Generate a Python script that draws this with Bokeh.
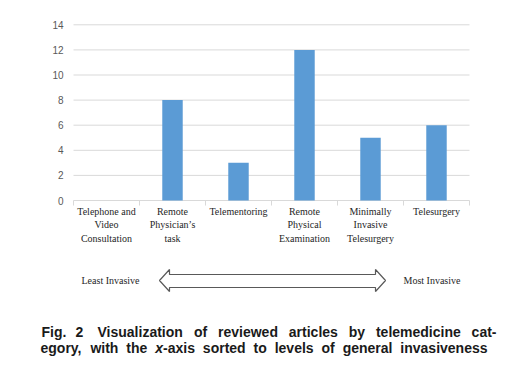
from bokeh.plotting import figure
from bokeh.models import Range1d, FixedTicker
from bokeh.core.properties import value
from bokeh.embed import file_html
from bokeh.resources import INLINE

# ---------------- data ----------------
categories = [
    "Telephone and\nVideo\nConsultation",
    "Remote\nPhysician\u2019s\ntask",
    "Telementoring",
    "Remote\nPhysical\nExamination",
    "Minimally\nInvasive\nTelesurgery",
    "Telesurgery",
]
articles = [0, 8, 3, 12, 5, 6]
y_ticks = [0, 2, 4, 6, 8, 10, 12, 14]

scale_left = "Least Invasive"
scale_right = "Most Invasive"
caption_1 = ["Fig.", "2", "Visualization", "of", "reviewed", "articles", "by", "telemedicine", "cat-"]
caption_2 = [["egory,"], ["with"], ["the"], ["x", "-axis"], ["sorted"], ["to"], ["levels"],
             ["of"], ["general"], ["invasiveness"]]

GRID = "#d9d9d9"
BAR = "#5B9BD5"

# page geometry: canvas placed at page ORIGIN
ORIGIN = 0
W_CANVAS, H_CANVAS = 503, 366
n = len(categories)
pos = list(range(1, n + 1))                 # category centres
bounds = [i + 0.5 for i in range(n + 1)]    # category boundaries
CAT_PX = 66.0
PX_PER_UNIT = 12.55
x_start = 0.5 - (73 - ORIGIN) / CAT_PX
x_end = x_start + W_CANVAS / CAT_PX
y_end = (200 - ORIGIN) / PX_PER_UNIT
y_start = y_end - H_CANVAS / PX_PER_UNIT

p = figure(
    x_range=Range1d(x_start, x_end), y_range=Range1d(y_start, y_end),
    width=W_CANVAS, height=H_CANVAS,
    min_border_left=0, min_border_right=0, min_border_top=0, min_border_bottom=0,
    output_backend="svg", toolbar_location=None,
)
p.extra_x_ranges = {"px": Range1d(ORIGIN, ORIGIN + W_CANVAS)}
p.extra_y_ranges = {"px": Range1d(ORIGIN + H_CANVAS, ORIGIN)}
p.outline_line_color = None
p.grid.visible = False

# grid lines and boundary ticks limited to the chart area
p.segment(x0=bounds[0], y0=y_ticks, x1=bounds[-1], y1=y_ticks, line_color=GRID, line_width=1)
p.segment(x0=bounds, y0=0, x1=bounds, y1=-0.4, line_color=GRID, line_width=1)

p.vbar(x=pos, top=articles, width=0.31, fill_color=BAR, line_color=None)

# axes placed inside the canvas
ya = p.yaxis[0]
ya.fixed_location = bounds[0]
ya.ticker = FixedTicker(ticks=y_ticks)
ya.axis_line_color = None
ya.major_tick_line_color = None
ya.minor_tick_line_color = None
ya.major_tick_out = 0
ya.major_tick_in = 0
ya.major_label_standoff = 10
ya.major_label_text_font = "Liberation Sans"
ya.major_label_text_font_size = "10px"
ya.major_label_text_color = "#595959"

xa = p.xaxis[0]
xa.fixed_location = 0
xa.ticker = FixedTicker(ticks=pos)
xa.major_label_overrides = {k: v for k, v in zip(pos, categories)}
xa.axis_line_color = None
xa.major_tick_line_color = None
xa.minor_tick_line_color = None
xa.major_tick_out = 0
xa.major_tick_in = 0
xa.major_label_standoff = 5
xa.major_label_text_font = "Liberation Serif"
xa.major_label_text_font_size = "10px"
xa.major_label_text_color = "#262626"
xa.major_label_text_line_height = 1.25

# ---------------- arrow + caption (page pixel coordinates) ----------------
ax = [159, 169, 169, 375, 375, 385, 375, 375, 169, 169]
ay = [280, 269, 274, 274, 269, 280, 291, 287, 287, 291]
p.patch(x=ax, y=ay, fill_color="white", line_color="#595959", line_width=1.2,
        x_range_name="px", y_range_name="px")

p.text(x=[81, 403], y=[280, 280], text=[scale_left, scale_right], text_font=value("Liberation Serif"),
       text_font_size="10px", text_baseline="middle", text_align="left", text_color="#262626",
       x_range_name="px", y_range_name="px")

# Helvetica-Bold advance widths (per 1000 em)
W = {'a': 556, 'b': 611, 'c': 556, 'd': 611, 'e': 556, 'f': 333, 'g': 611, 'h': 611, 'i': 278,
     'j': 278, 'k': 556, 'l': 278, 'm': 889, 'n': 611, 'o': 611, 'p': 611, 'q': 611, 'r': 389,
     's': 556, 't': 333, 'u': 611, 'v': 556, 'w': 778, 'x': 556, 'y': 556, 'z': 500, 'F': 611,
     'V': 667, '2': 556, '.': 278, ',': 278, '-': 333, ' ': 278}
FS = 14


def tw(s):
    return sum(W.get(c, 556) for c in s) * FS / 1000.0


bx, by, bt = [], [], []
ix, iy, it = [], [], []

y1 = 331
bx += [41, 75]; by += [y1, y1]; bt += caption_1[:2]
words = caption_1[2:]
start, end = 97, 496
gap = (end - start - sum(tw(w) for w in words)) / (len(words) - 1)
x = start
for w in words:
    bx.append(x); by.append(y1); bt.append(w)
    x += tw(w) + gap

y2 = 347.5
start, end = 40, 487
total = sum(tw(s) for g in caption_2 for s in g)
gap = (end - start - total) / (len(caption_2) - 1)
x = start
for g in caption_2:
    for s in g:
        if s == "x":
            ix.append(x); iy.append(y2); it.append(s)
        else:
            bx.append(x); by.append(y2); bt.append(s)
        x += tw(s)
    x += gap

p.text(x=bx, y=by, text=bt, text_font=value("Liberation Sans"), text_font_size=f"{FS}px",
       text_font_style="bold", text_baseline="alphabetic", text_align="left", text_color="#1a1a1a",
       x_range_name="px", y_range_name="px")
p.text(x=ix, y=iy, text=it, text_font=value("Liberation Sans"), text_font_size=f"{FS}px",
       text_font_style="bold italic", text_baseline="alphabetic", text_align="left", text_color="#1a1a1a",
       x_range_name="px", y_range_name="px")

open("out.html", "w").write(file_html(p, INLINE))
